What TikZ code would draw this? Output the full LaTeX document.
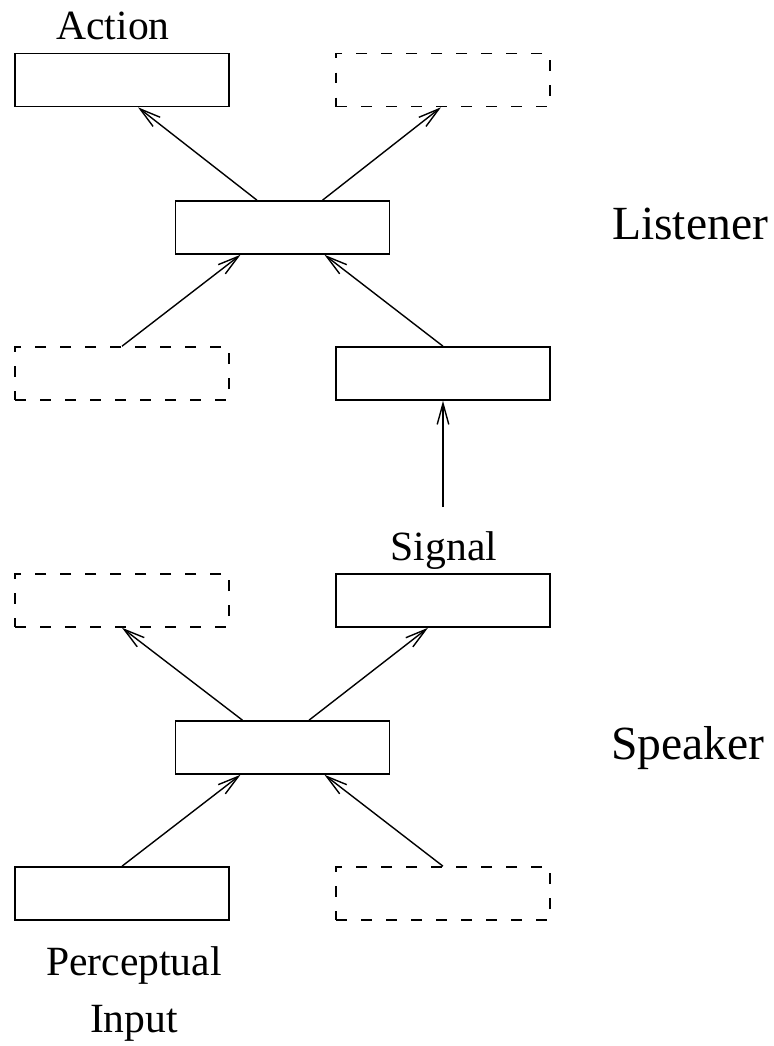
\documentclass[tikz,border=0pt]{standalone}
\usepackage{fontspec}
\setmainfont{Liberation Serif}
\usetikzlibrary{arrows.meta}
\begin{document}
\begin{tikzpicture}[x=0.5pt,y=-0.5pt,
  box/.style={draw,line width=0.8pt,rectangle,inner sep=0pt,minimum width=107pt,minimum height=26.5pt},
  dbox/.style={box,dash pattern=on 5.3pt off 7.2pt},
  arr/.style={line width=0.7pt,-{Straight Barb[length=10.5pt,width=5.8pt,line width=0.7pt]}},
  small/.style={font=\fontsize{20.8}{24}\selectfont,anchor=base,inner sep=0pt},
  big/.style={font=\fontsize{23.8}{28}\selectfont,anchor=base,inner sep=0pt}]
\useasboundingbox (0,0) rectangle (774,1046);
% listener
\node[box]  (act)   at (122,80) {};
\node[dbox] (ldash) at (443,80) {};
\node[box]  (lmid)  at (282.5,227.5) {};
\node[dbox] (lin1)  at (122,373.5) {};
\node[box]  (lin2)  at (443,373.5) {};
% speaker
\node[dbox] (sdash) at (122,600.5) {};
\node[box]  (sig)   at (443,600.5) {};
\node[box]  (smid)  at (282.5,747.5) {};
\node[box]  (perc)  at (122,893.5) {};
\node[dbox] (sdash2) at (443,893.5) {};
% labels
\node[small] (tact) at (113,39) {Action};
\node[small] (tsig) at (444,560) {Signal};
\node[small] (tperc) at (134,975) {Perceptual};
\node[small] (tinp) at (134,1032) {Input};
\node[big] (tlis) at (690,239) {Listener};
\node[big] (tspk) at (688,759) {Speaker};
\coordinate (sigtop) at (443,507);
% arrows listener
\draw[arr] ([xshift=-12.75pt]lmid.north) -- ([xshift=8pt]act.south);
\draw[arr] ([xshift=20pt]lmid.north) -- ([xshift=-1pt]ldash.south);
\draw[arr] (lin1.north) -- ([xshift=-21pt]lmid.south);
\draw[arr] (lin2.north) -- ([xshift=21pt]lmid.south);
\draw[arr] (sigtop) -- (lin2.south);
% arrows speaker
\draw[arr] ([xshift=-20pt]smid.north) -- (sdash.south);
\draw[arr] ([xshift=13.25pt]smid.north) -- ([xshift=-7.5pt]sig.south);
\draw[arr] (perc.north) -- ([xshift=-21pt]smid.south);
\draw[arr] (sdash2.north) -- ([xshift=21pt]smid.south);
\end{tikzpicture}
\end{document}
